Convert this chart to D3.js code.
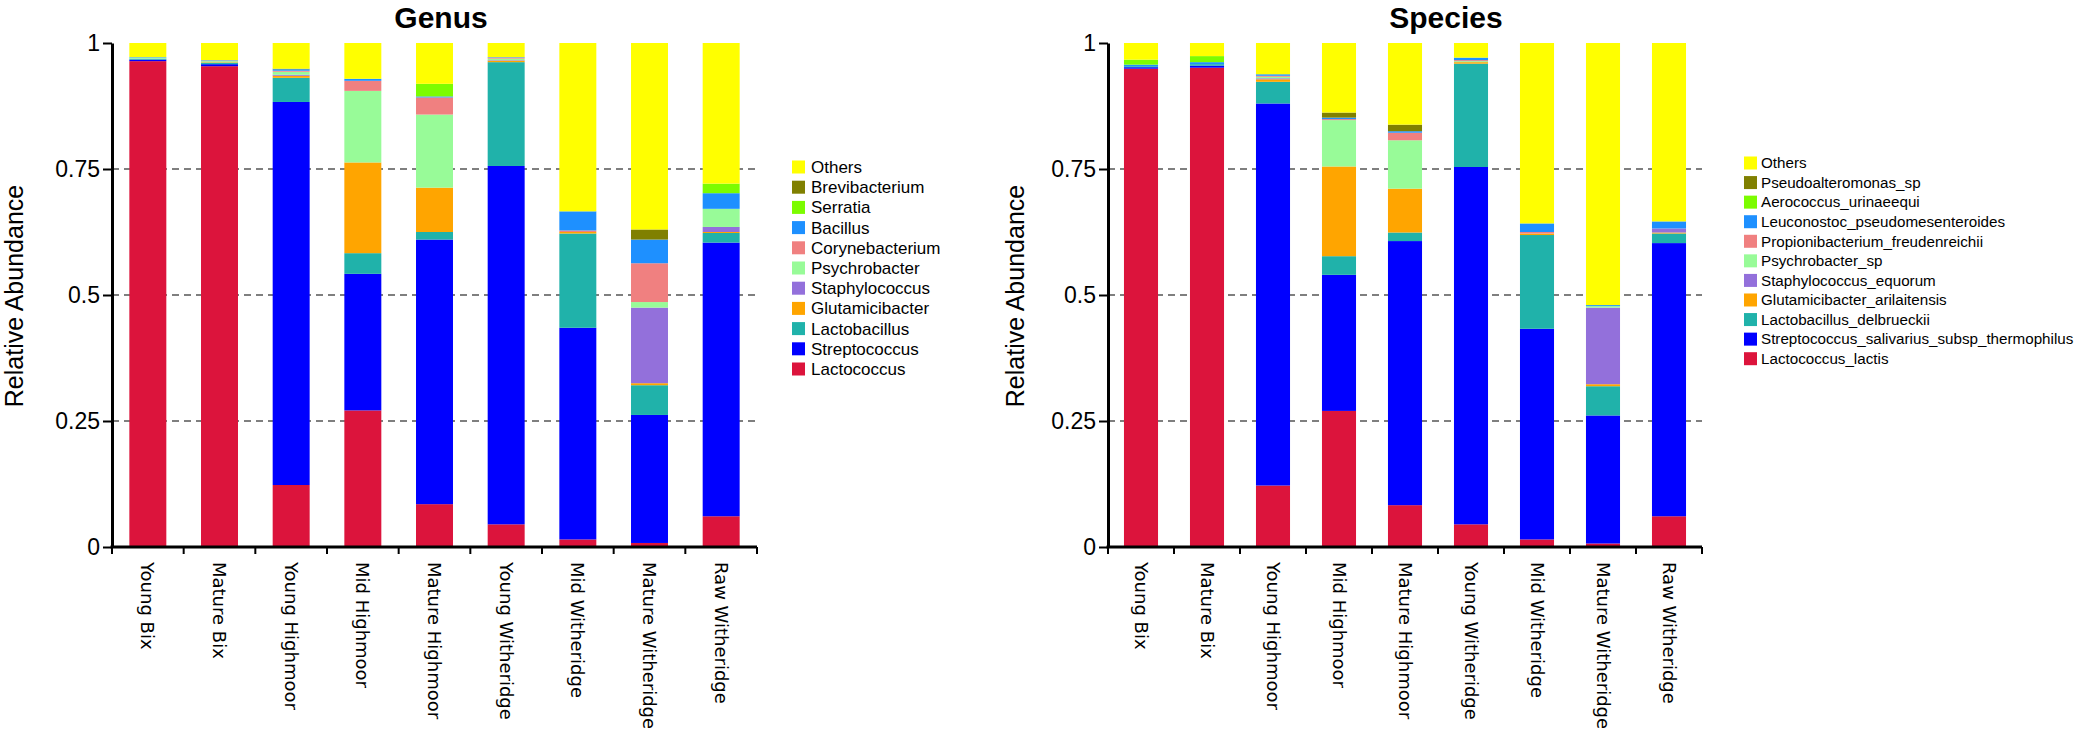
<!DOCTYPE html>
<html>
<head>
<meta charset="utf-8">
<script src="https://cdn.jsdelivr.net/npm/d3@7"></script>
<style>
	body { margin: 0; background: #fff; }
	svg { display: block; }
</style>
</head>
<body>
<script>
(function () {
	"use strict";

	var w = 2079;
	var h = 745;

	var samples = ["Young Bix", "Mature Bix", "Young Highmoor", "Mid Highmoor", "Mature Highmoor",
		"Young Witheridge", "Mid Witheridge", "Mature Witheridge", "Raw Witheridge"];

	// stack order, bottom to top (legend shows it reversed)
	var genusTaxa = ["Lactococcus", "Streptococcus", "Lactobacillus", "Glutamicibacter", "Staphylococcus",
		"Psychrobacter", "Corynebacterium", "Bacillus", "Serratia", "Brevibacterium", "Others"];
	var speciesTaxa = ["Lactococcus_lactis", "Streptococcus_salivarius_subsp_thermophilus", "Lactobacillus_delbrueckii",
		"Glutamicibacter_arilaitensis", "Staphylococcus_equorum", "Psychrobacter_sp", "Propionibacterium_freudenreichii",
		"Leuconostoc_pseudomesenteroides", "Aerococcus_urinaeequi", "Pseudoalteromonas_sp", "Others"];
	var taxaColors = ["#DC143C", "#0000FF", "#20B2AA", "#FFA500", "#9370DB", "#98FB98",
		"#F08080", "#1E90FF", "#7CFC00", "#808000", "#FFFF00"];

	// Genus relative abundance, one array per taxon (same order as samples)
	var gLactococcus     = [0.964, 0.954, 0.123, 0.271, 0.085, 0.045, 0.015, 0.008, 0.061];
	var gStreptococcus   = [0.003, 0.004, 0.760, 0.271, 0.525, 0.711, 0.420, 0.254, 0.543];
	var gLactobacillus   = [0.002, 0.003, 0.048, 0.041, 0.015, 0.206, 0.187, 0.059, 0.019];
	var gGlutamicibacter = [0.000, 0.001, 0.004, 0.180, 0.088, 0.003, 0.003, 0.004, 0.002];
	var gStaphylococcus  = [0.000, 0.000, 0.002, 0.000, 0.000, 0.001, 0.000, 0.150, 0.010];
	var gPsychrobacter   = [0.002, 0.002, 0.006, 0.142, 0.145, 0.003, 0.000, 0.011, 0.036];
	var gCorynebacterium = [0.000, 0.001, 0.002, 0.020, 0.034, 0.002, 0.003, 0.077, 0.000];
	var gBacillus        = [0.001, 0.001, 0.003, 0.004, 0.002, 0.001, 0.038, 0.047, 0.031];
	var gSerratia        = [0.000, 0.000, 0.000, 0.000, 0.025, 0.000, 0.000, 0.000, 0.019];
	var gBrevibacterium  = [0.000, 0.000, 0.001, 0.000, 0.000, 0.000, 0.000, 0.020, 0.000];
	var gOthers          = [0.028, 0.034, 0.051, 0.071, 0.081, 0.028, 0.334, 0.370, 0.279];

	// Species relative abundance
	var sLactis     = [0.949, 0.951, 0.122, 0.270, 0.083, 0.045, 0.015, 0.007, 0.061];
	var sThermo     = [0.003, 0.004, 0.758, 0.270, 0.524, 0.709, 0.418, 0.254, 0.542];
	var sDelbrueckii= [0.002, 0.003, 0.043, 0.037, 0.017, 0.205, 0.186, 0.058, 0.019];
	var sArilaitensis=[0.000, 0.000, 0.005, 0.178, 0.087, 0.003, 0.003, 0.004, 0.002];
	var sEquorum    = [0.000, 0.000, 0.002, 0.000, 0.000, 0.000, 0.000, 0.152, 0.008];
	var sPsychro    = [0.000, 0.000, 0.003, 0.092, 0.096, 0.002, 0.000, 0.003, 0.000];
	var sFreuden    = [0.000, 0.000, 0.002, 0.002, 0.015, 0.002, 0.003, 0.000, 0.000];
	var sLeuco      = [0.003, 0.004, 0.003, 0.003, 0.003, 0.005, 0.017, 0.002, 0.014];
	var sAero       = [0.010, 0.012, 0.000, 0.000, 0.000, 0.000, 0.000, 0.000, 0.000];
	var sPseudo     = [0.000, 0.000, 0.000, 0.010, 0.013, 0.000, 0.000, 0.000, 0.000];
	var sOthers     = [0.033, 0.026, 0.062, 0.138, 0.162, 0.029, 0.358, 0.520, 0.354];

	var yTicks = [0, 0.25, 0.5, 0.75, 1];
	var yTickLabels = ["0", "0.25", "0.5", "0.75", "1"];
	var gridTicks = [0.25, 0.5, 0.75];

	var svg = d3.select("body")
		.append("svg")
		.attr("width", w)
		.attr("height", h);

	var yScale = d3.scaleLinear()
		.domain([0, 1])
		.range([547, 43]);

	function buildChart(cfg) {
		var rows = samples.map(function (s, i) {
			var row = { sample: s };
			cfg.taxa.forEach(function (t, k) { row[t] = cfg.values[k][i]; });
			return row;
		});
		var series = d3.stack().keys(cfg.taxa)(rows);

		var xScale = d3.scaleBand()
			.domain(samples)
			.range([cfg.left, cfg.right])
			.paddingInner(0.484)
			.paddingOuter(0.242);

		var g = svg.append("g");

		// dashed grid
		g.selectAll(".grid")
			.data(gridTicks)
			.enter().append("line")
			.attr("x1", cfg.left)
			.attr("x2", cfg.right)
			.attr("y1", (d) => yScale(d))
			.attr("y2", (d) => yScale(d))
			.attr("stroke", "#555")
			.attr("stroke-width", 1.6)
			.attr("stroke-dasharray", "7,5");

		// stacked bars
		g.selectAll(".layer")
			.data(series)
			.enter().append("g")
			.attr("fill", (d, i) => taxaColors[i])
			.selectAll("rect")
			.data((d) => d)
			.enter().append("rect")
			.attr("x", (d) => xScale(d.data.sample))
			.attr("width", xScale.bandwidth())
			.attr("y", (d) => yScale(d[1]))
			.attr("height", (d) => Math.max(0, yScale(d[0]) - yScale(d[1])));

		// y axis
		var yAxisGen = d3.axisLeft(yScale)
			.tickValues(yTicks)
			.tickFormat((d, i) => yTickLabels[i])
			.tickSize(9)
			.tickSizeOuter(0)
			.tickPadding(3);

		var yAxis = g.append("g")
			.attr("transform", "translate(" + cfg.left + ",0)")
			.call(yAxisGen);
		yAxis.select(".domain").attr("stroke-width", 3);
		yAxis.selectAll(".tick line").attr("stroke-width", 2);
		yAxis.selectAll(".tick text")
			.attr("font-family", "Liberation Sans, Arial, sans-serif")
			.attr("font-size", 23)
			.attr("fill", "#000");

		// x axis line with ticks at band edges
		var y0 = yScale(0);
		g.append("line")
			.attr("x1", cfg.left - 1.5)
			.attr("x2", cfg.right)
			.attr("y1", y0)
			.attr("y2", y0)
			.attr("stroke", "#000")
			.attr("stroke-width", 3);

		var half = xScale.step() * xScale.paddingInner() / 2;
		var edges = samples.map((s) => xScale(s) - half);
		edges.push(cfg.right);
		g.selectAll(".xtick")
			.data(edges)
			.enter().append("line")
			.attr("x1", (d) => d)
			.attr("x2", (d) => d)
			.attr("y1", y0)
			.attr("y2", y0 + 7)
			.attr("stroke", "#000")
			.attr("stroke-width", 2);

		g.selectAll(".xlabel")
			.data(samples)
			.enter().append("text")
			.attr("transform", (d) => "translate(" + (xScale(d) + xScale.bandwidth() / 2) + "," + 562 + ") rotate(90)")
			.attr("dy", "0.36em")
			.attr("font-family", "DejaVu Sans, sans-serif")
			.attr("font-size", 18)
			.text((d) => d);

		// y title
		g.append("text")
			.attr("transform", "translate(" + cfg.yTitleX + "," + 296 + ") rotate(-90)")
			.attr("text-anchor", "middle")
			.attr("font-family", "Liberation Sans, Arial, sans-serif")
			.attr("font-size", 25)
			.text("Relative Abundance");

		// chart title
		g.append("text")
			.attr("x", cfg.titleX)
			.attr("y", 28)
			.attr("text-anchor", "middle")
			.attr("font-family", "Liberation Sans, Arial, sans-serif")
			.attr("font-weight", "bold")
			.attr("font-size", 30)
			.text(cfg.title);

		// legend, top entry is the last stacked taxon
		var legendItems = cfg.taxa.map((t, i) => ({ name: t, color: taxaColors[i] })).reverse();
		var legend = g.selectAll(".legend")
			.data(legendItems)
			.enter().append("g")
			.attr("transform", (d, i) => "translate(" + cfg.legendX + "," + (cfg.legendY + i * cfg.legendStep) + ")");
		legend.append("rect")
			.attr("x", 0)
			.attr("y", -6.5)
			.attr("width", 13)
			.attr("height", 13)
			.attr("fill", (d) => d.color);
		legend.append("text")
			.attr("x", cfg.legendTextDx)
			.attr("dy", "0.35em")
			.attr("font-family", "Liberation Sans, Arial, sans-serif")
			.attr("font-size", cfg.legendFont)
			.text((d) => d.name);
	}

	buildChart({
		title: "Genus",
		taxa: genusTaxa,
		values: [gLactococcus, gStreptococcus, gLactobacillus, gGlutamicibacter, gStaphylococcus,
			gPsychrobacter, gCorynebacterium, gBacillus, gSerratia, gBrevibacterium, gOthers],
		left: 112,
		right: 757,
		titleX: 441,
		yTitleX: 23,
		legendX: 792,
		legendY: 167,
		legendStep: 20.2,
		legendFont: 17,
		legendTextDx: 19
	});

	buildChart({
		title: "Species",
		taxa: speciesTaxa,
		values: [sLactis, sThermo, sDelbrueckii, sArilaitensis, sEquorum,
			sPsychro, sFreuden, sLeuco, sAero, sPseudo, sOthers],
		left: 1108,
		right: 1702,
		titleX: 1446,
		yTitleX: 1024,
		legendX: 1744,
		legendY: 163,
		legendStep: 19.57,
		legendFont: 15.2,
		legendTextDx: 17
	});
})();
</script>
</body>
</html>
